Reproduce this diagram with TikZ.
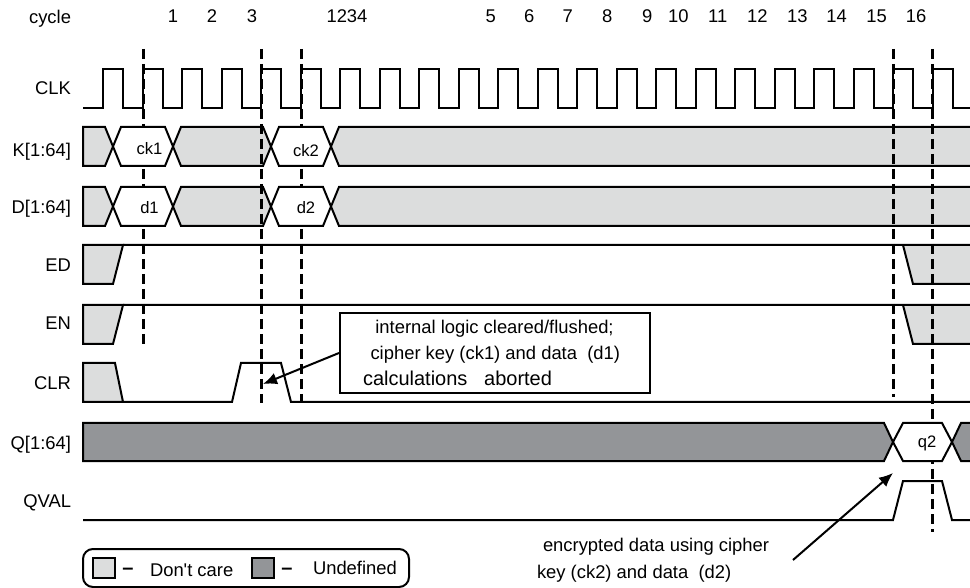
\documentclass[tikz,border=0pt]{standalone}
\usepackage{fontspec}
\setmainfont{Liberation Sans}[Ligatures=TeXOff]
\usetikzlibrary{arrows.meta}
\definecolor{dcgrey}{HTML}{DCDDDD}
\definecolor{udgrey}{HTML}{939598}

\begin{document}
\begin{tikzpicture}[x=0.5pt, y=-0.5pt, line width=1pt, line join=miter,
    dc/.style={fill=dcgrey, draw=black},
    ud/.style={fill=udgrey, draw=black},
    hexa/.style={fill=white, draw=black},
    guide/.style={line width=1.5pt, dash pattern=on 5pt off 2.5pt},
    pointer/.style={-{Latex[length=7pt,width=6pt]}, line width=1pt},
    txt/.style={inner sep=0pt, font=\fontsize{9.2}{11}\selectfont},
    lbl/.style={txt, anchor=base east},
    val/.style={inner sep=0pt, anchor=base, font=\fontsize{8.3}{10}\selectfont}]
  \useasboundingbox (0,0) rectangle (970,588);
  \foreach \y/\s/\n in {23.3/cycle/cycle, 95/CLK/CLK, 156.7/K/{K[1:64]}, 213.3/D/{D[1:64]},
      271.7/ED/ED, 329.3/EN/EN, 389.3/CLR/CLR, 450/Q/{Q[1:64]}, 507.3/QVAL/QVAL}
    \node[lbl] (l\s) at (72,\y) {\n};
  \foreach \x/\n in {173/1, 212/2, 252/3, 347/1234, 490.7/5, 529.3/6, 567.7/7, 607.3/8,
      647.3/9, 678.3/10, 717.7/11, 757.3/12, 797.3/13, 836.7/14, 876.7/15, 916/16}
    \node[txt, anchor=base] (c\n) at (\x,22.7) {\n};
  \draw (83,108) \foreach \k in {0,...,21}{ -- ({103+39.5*\k},108) -- ++(0,-39) -- ++(20,0) -- ++(0,39)} -- (970,108);
  \foreach \t/\b in {127/166, 187/226}{
    \pgfmathsetmacro\m{(\t+\b)/2}
    \filldraw[dc] (83,\t) -- (105,\t) -- (113,\m) -- (105,\b) -- (83,\b) -- cycle;
    \filldraw[dc] (173,\m) -- (181,\t) -- (263,\t) -- (271,\m) -- (263,\b) -- (181,\b) -- cycle;
    \fill[dcgrey] (331,\m) -- (339,\t) -- (970,\t) -- (970,\b) -- (339,\b) -- cycle;
    \draw (970,\t) -- (339,\t) -- (331,\m) -- (339,\b) -- (970,\b);
  }
  \foreach \t/\b in {245/284, 305/344}{
    \filldraw[dc] (83,\t) -- (123,\t) -- (113,\b) -- (83,\b) -- cycle;
    \fill[dcgrey] (903,\t) -- (970,\t) -- (970,\b) -- (913,\b) -- cycle;
    \draw (123,\t) -- (970,\t) (903,\t) -- (913,\b) -- (970,\b);
  }
  \filldraw[dc] (83,363) -- (115,363) -- (123,402) -- (83,402) -- cycle;
  \draw (123,402) -- (232,402) -- (241,363) -- (281,363) -- (291,402) -- (970,402);
  \filldraw[ud] (83,423) -- (884,423) -- (893,442) -- (884,461) -- (83,461) -- cycle;
  \fill[udgrey] (952,442) -- (961,423) -- (970,423) -- (970,461) -- (961,461) -- cycle;
  \draw (970,423) -- (961,423) -- (952,442) -- (961,461) -- (970,461);
  \draw (83,520) -- (893,520) -- (903,481) -- (942,481) -- (952,520) -- (970,520);
  \foreach \x/\e in {143/345, 261/403, 301/403, 893/397, 932.5/532}
    \draw[guide] (\x,49) -- (\x,\e);
  \foreach \t/\b/\ca/\cb/\ya/\yb in {127/166/ck1/ck2/155/156.7, 187/226/d1/d2/214/214}{
    \pgfmathsetmacro\m{(\t+\b)/2}
    \filldraw[hexa] (113,\m) -- (121,\t) -- (165,\t) -- (173,\m) -- (165,\b) -- (121,\b) -- cycle;
    \filldraw[hexa] (271,\m) -- (279,\t) -- (323,\t) -- (331,\m) -- (323,\b) -- (279,\b) -- cycle;
    \node[val] (\ca) at (149.5,\ya) {\ca};
    \node[val] (\cb) at (306,\yb) {\cb};
  }
  \filldraw[hexa] (893,442) -- (903,423) -- (942,423) -- (952,442) -- (942,461) -- (903,461) -- cycle;
  \node[val] (q2) at (927,447.3) {q2};
  \node[draw, fill=white, minimum width=155pt, minimum height=40pt, inner sep=0pt] (note) at (495,353) {};
  \node[txt, anchor=base] (note1) at (494.5,334) {internal logic cleared/flushed;};
  \node[txt, anchor=base] (note2) at (495.3,360) {cipher key (ck1) and data\ \ (d1)};
  \node[txt, anchor=base west, font=\fontsize{10}{12}\selectfont] (note3) at (362,386) {calculations\ \ \ aborted};
  \coordinate (clrtip) at (263,384);
  \draw[pointer] (note.west) -- (clrtip);
  \node[txt, anchor=base west] (enc1) at (542,551.7) {encrypted data using cipher};
  \node[txt, anchor=base west] (enc2) at (536,578.3) {key (ck2) and data\ \ (d2)};
  \coordinate (enctail) at (793,560);
  \coordinate (qtip) at (893,473);
  \draw[pointer] (enctail) -- (qtip);
  \node[draw, rounded corners=5pt, minimum width=163pt, minimum height=19pt, inner sep=0pt] (legend) at (246,568) {};
  \node[dc, minimum width=11pt, minimum height=10pt, inner sep=0pt] (dcbox) at (104,568) {};
  \node[txt, anchor=base, font=\fontsize{10}{12}\bfseries] (dcdash) at (128,574) {–};
  \node[txt, anchor=base west] (dctext) at (149,576.7) {Don't care};
  \node[ud, minimum width=11pt, minimum height=10pt, inner sep=0pt] (udbox) at (262.5,568) {};
  \node[txt, anchor=base, font=\fontsize{10}{12}\bfseries] (uddash) at (287,574) {–};
  \node[txt, anchor=base west] (udtext) at (312,574) {Undefined};
\end{tikzpicture}
\end{document}
